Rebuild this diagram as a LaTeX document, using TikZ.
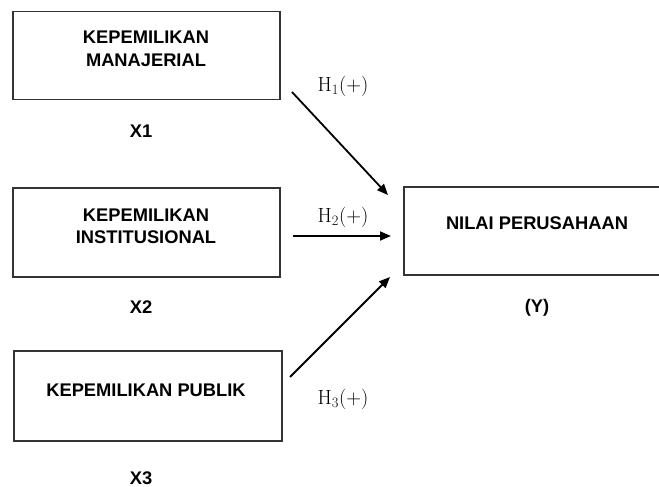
\documentclass[tikz,border=0pt]{standalone}
\usepackage[no-math]{fontspec}
\setmainfont{Liberation Sans}
\newfontfamily\lmr{Latin Modern Roman}
\usetikzlibrary{arrows.meta}
\newcommand{\hyplabel}[1]{{\lmr H\textsubscript{#1}(+)}}
\begin{document}
\begin{tikzpicture}[x=1pt,y=-1pt,
  box/.style={draw=black!80,line width=1.5pt,rectangle,inner sep=0pt},
  lbl/.style={font=\fontsize{18.3}{22.5}\selectfont\bfseries,align=center,inner sep=0pt},
  hyp/.style={font=\fontsize{20.5}{22}\selectfont,inner sep=0pt},
  arr/.style={line width=1.8pt,-{Triangle[length=11pt,width=9pt]}}]
\useasboundingbox (0,0) rectangle (659,487);
\clip (0,0) rectangle (659,487);
% boxes
\node[box,minimum width=267pt,minimum height=88pt] (b1) at (146.5,55.5) {};
\node[box,minimum width=267pt,minimum height=89pt] (b2) at (146.5,232.5) {};
\node[box,minimum width=268pt,minimum height=90pt] (b3) at (148,396) {};
\node[box,minimum width=262pt,minimum height=88pt] (by) at (535,231) {};
% texts
\node[lbl] (t1) at (146,49) {KEPEMILIKAN\\MANAJERIAL};
\node[lbl] (t2) at (146,226.5) {KEPEMILIKAN\\INSTITUSIONAL};
\node[lbl] (t3) at (146,390) {KEPEMILIKAN PUBLIK};
\node[lbl] (ty) at (537,223) {NILAI PERUSAHAAN};
\node[lbl] (x1) at (141,131) {X1};
\node[lbl] (x2) at (141,307) {X2};
\node[lbl] (x3) at (141,478) {X3};
\node[lbl] (yy) at (537,308) {(Y)};
% hypothesis labels
\node[hyp] (h1) at (343,86) {\hyplabel{1}};
\node[hyp] (h2) at (343,217) {\hyplabel{2}};
\node[hyp] (h3) at (343,399) {\hyplabel{3}};
% arrow end points
\coordinate (a1s) at (292,92);
\coordinate (a1e) at (388,195);
\coordinate (a2s) at (293,236);
\coordinate (a2e) at (391,236);
\coordinate (a3s) at (290,377);
\coordinate (a3e) at (390,277);
\draw[arr] (a1s) -- (a1e);
\draw[arr] (a2s) -- (a2e);
\draw[arr] (a3s) -- (a3e);
\end{tikzpicture}
\end{document}
